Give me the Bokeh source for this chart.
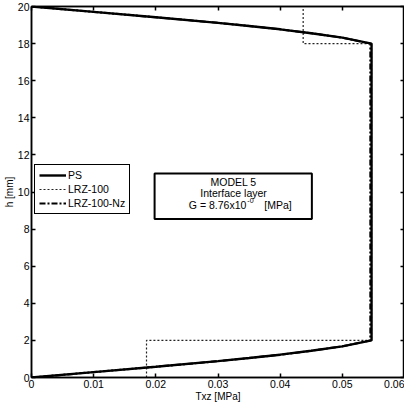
from bokeh.plotting import figure
from bokeh.models import (LinearAxis, FixedTicker, Range1d, Legend, LegendItem,
                          Label, BoxAnnotation, CustomJSTickFormatter)
from bokeh.embed import file_html
from bokeh.resources import INLINE

# ---- data ----
ps_tau = [0.0, 0.010, 0.020, 0.030, 0.035, 0.040, 0.045, 0.050, 0.0547,
          0.0547, 0.050, 0.045, 0.040, 0.035, 0.030, 0.020, 0.010, 0.0]
ps_h = [0.0, 0.29, 0.58, 0.88, 1.05, 1.23, 1.44, 1.68, 2.0,
        18.0, 18.32, 18.56, 18.77, 18.95, 19.12, 19.42, 19.71, 20.0]

lrz_tau = [0.0185, 0.0185, 0.0547, 0.0547, 0.0437, 0.0437]
lrz_h = [0.0, 2.0, 2.0, 18.0, 18.0, 20.0]

nz_tau = [0.0, 0.010, 0.020, 0.030, 0.035, 0.040, 0.045, 0.050, 0.0545,
          0.0545, 0.050, 0.045, 0.040, 0.035, 0.030, 0.020, 0.010, 0.0]
nz_h = [0.0, 0.29, 0.58, 0.88, 1.05, 1.23, 1.44, 1.68, 2.0,
        18.0, 18.32, 18.56, 18.77, 18.95, 19.12, 19.42, 19.71, 20.0]

x_ticks = [0.0, 0.01, 0.02, 0.03, 0.04, 0.05, 0.06]
x_tick_labels = ["0", "0.01", "0.02", "0.03", "0.04", "0.05", "0.06"]
y_ticks = [0, 2, 4, 6, 8, 10, 12, 14, 16, 18, 20]
y_tick_labels = ["0", "2", "4", "6", "8", "10", "12", "14", "16", "18", "20"]

series_names = ["PS", "LRZ-100", "LRZ-100-Nz"]
box_lines = ["MODEL 5", "Interface layer"]
g_text = "G = 8.76x10"
g_sup = "-0"
g_unit = "[MPa]"

FONT = "Liberation Sans"

p = figure(width=404, height=404, output_backend="svg", toolbar_location=None,
           x_range=Range1d(0, 0.06), y_range=Range1d(0, 20),
           min_border_left=23, min_border_right=0, min_border_top=6, min_border_bottom=10,
           background_fill_color="white", border_fill_color="white")
p.grid.visible = False
p.outline_line_color = "black"
p.outline_line_alpha = 1
p.outline_line_width = 1.5

for ax, ticks, labels in ((p.xaxis[0], x_ticks, x_tick_labels), (p.yaxis[0], y_ticks, y_tick_labels)):
    ax.ticker = FixedTicker(ticks=ticks)
    ax.major_label_overrides = {t: l for t, l in zip(ticks, labels)}
    ax.minor_tick_line_color = None
    ax.major_tick_in = 4
    ax.major_tick_out = 0
    ax.major_tick_line_width = 1.5
    ax.axis_line_width = 1.5
    ax.major_label_text_font = FONT
    ax.major_label_text_font_size = "10.5px"
    ax.major_label_text_color = "black"
    ax.major_label_standoff = 2
    ax.axis_label_text_font = FONT
    ax.axis_label_text_font_size = "10px"
    ax.axis_label_text_font_style = "normal"
    ax.axis_label_text_color = "black"
    ax.axis_label_standoff = 0

p.xaxis.axis_label = "Txz [MPa]"
p.yaxis.axis_label = "h [mm]"

# top and right tick-only axes (matlab-style box ticks)
for place, ticks in (("above", x_ticks), ("right", y_ticks)):
    ax = LinearAxis(ticker=FixedTicker(ticks=ticks),
                    formatter=CustomJSTickFormatter(code="return ''"),
                    major_tick_in=4, major_tick_out=0, minor_tick_line_color=None,
                    major_tick_line_width=1.5, axis_line_width=1.5, major_label_standoff=0)
    p.add_layout(ax, place)

r_lrz = p.line(lrz_tau, lrz_h, line_color="#222222", line_width=1.2, line_dash="2 2")
r_ps = p.line(ps_tau, ps_h, line_color="black", line_width=2.4)
r_nz = p.line(nz_tau, nz_h, line_color="black", line_width=2.0, line_dash="6 2 2 2")

legend = Legend(items=[LegendItem(label=series_names[0], renderers=[r_ps]),
                       LegendItem(label=series_names[1], renderers=[r_lrz]),
                       LegendItem(label=series_names[2], renderers=[r_nz])],
                location=(3, 163), orientation="vertical",
                border_line_color="black", border_line_alpha=1, border_line_width=1.2,
                background_fill_color="white", background_fill_alpha=1,
                padding=4, spacing=2, margin=0,
                glyph_width=27, glyph_height=12, label_height=12, label_standoff=2,
                label_text_font=FONT, label_text_font_size="10.5px", label_text_color="black")
p.add_layout(legend, "center")

box = BoxAnnotation(left=0.0198, right=0.0451, bottom=8.55, top=11.0,
                    fill_alpha=0, line_color="black", line_alpha=1, line_width=2)
p.add_layout(box)

cx = 0.0325
for txt, y in zip(box_lines, [10.55, 9.94]):
    p.add_layout(Label(x=cx, y=y, text=txt, text_align="center", text_baseline="middle",
                       text_font=FONT, text_font_size="10.5px", text_color="black"))
p.add_layout(Label(x=0.03456, y=9.3, text=g_text, text_align="right", text_baseline="middle",
                   text_font=FONT, text_font_size="10.5px", text_color="black"))
p.add_layout(Label(x=0.03456, y=9.3, text=g_sup, text_align="left", text_baseline="middle",
                   x_offset=1, y_offset=4, text_font=FONT, text_font_size="7px", text_color="black"))
p.add_layout(Label(x=0.03744, y=9.3, text=g_unit, text_align="left", text_baseline="middle",
                   text_font=FONT, text_font_size="10.5px", text_color="black"))

open("out.html", "w").write(file_html(p, INLINE))
